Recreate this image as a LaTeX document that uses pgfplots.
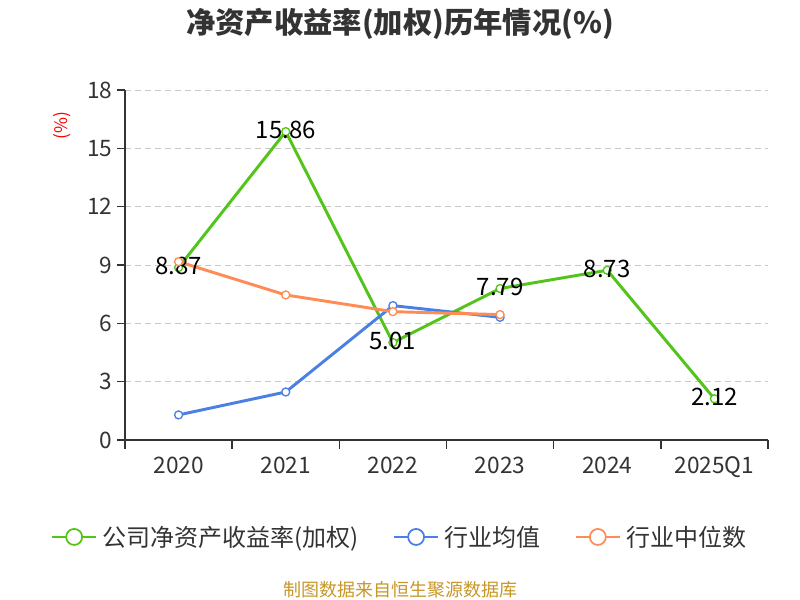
\documentclass[border=0pt]{standalone}
\usepackage{fontspec}
\setmainfont{Noto Sans CJK SC}
\usepackage{pgfplots}
\pgfplotsset{compat=1.18}
\definecolor{cgreen}{RGB}{82,196,26}
\definecolor{cblue}{RGB}{75,128,226}
\definecolor{corange}{RGB}{255,140,85}
\definecolor{caxis}{RGB}{51,51,51}
\definecolor{cgrid}{RGB}{200,200,200}
\definecolor{csrc}{RGB}{200,150,40}
\begin{document}
\begin{tikzpicture}
\path[use as bounding box] (0,0) rectangle (600pt,450pt);
\node[font=\bfseries\fontsize{22}{26}\selectfont, text=caxis] at (300pt,432pt) {净资产收益率(加权)历年情况(\%)};
\node[font=\fontsize{13}{15}\selectfont, text=red, rotate=90] at (46.5pt,356pt) {(\%)};
\node[font=\fontsize{13.5}{15}\selectfont, text=csrc] at (300pt,8pt) {制图数据来自恒生聚源数据库};
\begin{axis}[
  at={(93.75pt,120pt)}, anchor=south west,
  scale only axis, width=482.25pt, height=262.5pt,
  xmin=-0.5, xmax=5.5, ymin=0, ymax=18,
  ytick={0,3,6,9,12,15,18},
  xtick={0,1,2,3,4,5},
  xticklabels={2020,2021,2022,2023,2024,2025Q1},
  extra x ticks={-0.5,0.5,1.5,2.5,3.5,4.5,5.5},
  extra x tick labels={},
  extra x tick style={major tick length=6.5pt, grid=none},
  axis x line*=bottom, axis y line*=left,
  axis line style={caxis, line width=1.2pt},
  tick align=outside,
  major tick length=6pt,
  x tick style={draw=none},
  extra x tick style={xtick style={draw=caxis, line width=1.2pt}},
  y tick style={caxis, line width=1.2pt},
  xticklabel style={yshift=-3pt},
  ymajorgrids,
  major grid style={cgrid, dashed, dash pattern=on 4.5pt off 3pt, line width=0.7pt},
  tick label style={font=\fontsize{17}{20}\selectfont, text=caxis},
  /pgf/number format/assume math mode=true,
  legend columns=3,
  legend style={at={(0.4277,-0.277)}, anchor=center, draw=none, fill=none,
    font=\fontsize{18}{20}\selectfont, text=caxis,
    /tikz/every odd column/.append style={column sep=2pt},
    /tikz/every even column/.append style={column sep=24pt}},
  legend image code/.code={
    \draw[line width=1.3pt] (0pt,0pt) -- (33pt,0pt);
    \draw[line width=1.3pt, fill=white] (16.5pt,0pt) circle (6pt);
  },
]
\addplot[cgreen, line width=2.2pt, mark=*, mark size=3pt, mark options={fill=white, line width=1pt},
  nodes near coords, point meta=explicit symbolic,
  every node near coord/.append style={anchor=center, yshift=1pt, font=\fontsize{18}{20}\selectfont, text=black}]
  coordinates {(0,8.87)[8.87] (1,15.86)[15.86] (2,5.01)[5.01] (3,7.79)[7.79] (4,8.73)[8.73] (5,2.12)[2.12]};
\addlegendentry{公司净资产收益率(加权)}
\addplot[cblue, line width=2.2pt, mark=*, mark size=3pt, mark options={fill=white, line width=1pt}]
  coordinates {(0,1.29) (1,2.47) (2,6.91) (3,6.31)};
\addlegendentry{行业均值}
\addplot[corange, line width=2.2pt, mark=*, mark size=3pt, mark options={fill=white, line width=1pt}]
  coordinates {(0,9.17) (1,7.46) (2,6.60) (3,6.45)};
\addlegendentry{行业中位数}
\end{axis}
\end{tikzpicture}
\end{document}
